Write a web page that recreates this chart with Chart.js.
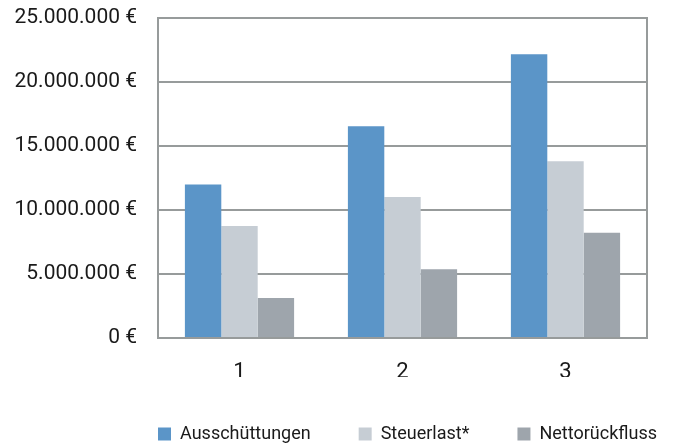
<!DOCTYPE html>
<html>
<head>
<meta charset="utf-8">
<script src="https://cdn.jsdelivr.net/npm/chart.js@4"></script>
<style>
  html, body { margin: 0; padding: 0; background: #fff; }
  #wrap { width: 692px; height: 443px; }
</style>
</head>
<body>
<div id="wrap"><canvas id="chart" width="692" height="443"></canvas></div>
<script>
var categories = ["1", "2", "3"];
var ausschuettungen = [12000000, 16550000, 22170000];
var steuerlast = [8750000, 11020000, 13800000];
var nettorueckfluss = [3120000, 5380000, 8220000];
var yTicks = [0, 5000000, 10000000, 15000000, 20000000, 25000000];

var FONT = 'Roboto, "Liberation Sans", sans-serif';
var GRID = '#979b9b';

function euro(v) {
    return String(v).replace(/\B(?=(\d{3})+(?!\d))/g, '.') + ' €';
}

var ctx = document.getElementById("chart").getContext('2d');
var myChart = new Chart(ctx, {
    type: 'bar',
    data: {
        labels: categories,
        datasets: [{
            label: "Ausschüttungen",
            backgroundColor: "#5b95c8",
            data: ausschuettungen
        }, {
            label: "Steuerlast*",
            backgroundColor: "#c6cdd4",
            data: steuerlast
        }, {
            label: "Nettorückfluss",
            backgroundColor: "#9ea5ac",
            data: nettorueckfluss
        }]
    },
    options: {
        responsive: false,
        animation: false,
        layout: { padding: { top: 18, right: -13, left: 0, bottom: -10 } },
        datasets: {
            bar: { categoryPercentage: 0.67, barPercentage: 1.0, borderWidth: 0 }
        },
        scales: {
            x: {
                grid: { display: false, drawTicks: false },
                border: { display: true, color: GRID, width: 2 },
                ticks: { color: '#1a1a1a', padding: 21, font: { family: FONT, size: 22 } },
                afterFit: function (axis) { axis.height = 39; }
            },
            y: {
                min: 0,
                max: 25000000,
                afterBuildTicks: function (axis) {
                    axis.ticks = yTicks.map(function (v) { return { value: v }; });
                },
                grid: { color: GRID, lineWidth: 2, drawTicks: false },
                border: { display: true, color: GRID, width: 2 },
                ticks: {
                    color: '#1a1a1a',
                    padding: 21,
                    font: { family: FONT, size: 21 },
                    callback: function (v) { return euro(v); }
                },
                afterFit: function (axis) {
                    axis.width = 158;
                    axis.paddingTop = 0;
                    axis.paddingBottom = 0;
                }
            },
            yRight: {
                position: 'right',
                min: 0,
                max: 25000000,
                grid: { display: false, drawTicks: false },
                border: { display: true, color: GRID, width: 2 },
                ticks: { display: false },
                afterFit: function (axis) { axis.width = 58; }
            }
        },
        plugins: {
            tooltip: { enabled: false },
            legend: {
                position: 'bottom',
                align: 'end',
                labels: {
                    boxWidth: 13,
                    boxHeight: 13,
                    padding: 48,
                    color: '#1a1a1a',
                    font: { family: FONT, size: 18 }
                }
            }
        }
    }
});
</script>
</body>
</html>
